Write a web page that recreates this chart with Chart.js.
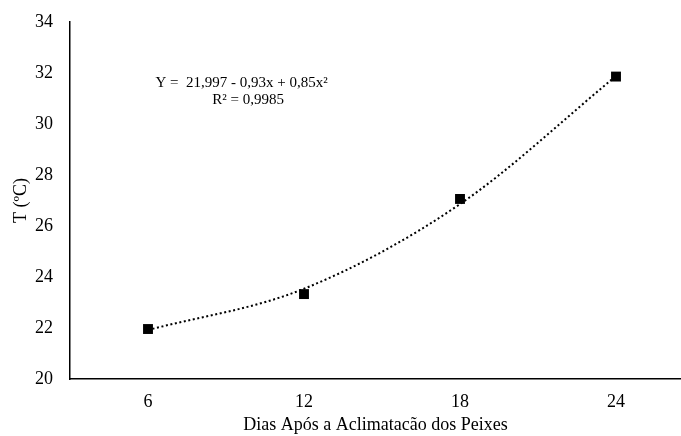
<!DOCTYPE html>
<html>
<head>
<meta charset="utf-8">
<script src="https://cdn.jsdelivr.net/npm/chart.js@4"></script>
<style>
  html, body { margin: 0; padding: 0; background: #fff; overflow: hidden; }
  #wrap { width: 681px; height: 436px; }
  canvas { display: block; }
</style>
</head>
<body>
<div id="wrap"><canvas id="myChart" width="681" height="436"></canvas></div>
<script>
// days after acclimatization
const dias = [6, 12, 18, 24];
// measured temperature (ºC)
const temperatura = [21.96, 23.33, 27.06, 31.86];
// polynomial trendline read at each day
const tendencia = [21.92, 23.54, 26.86, 31.88];
const xTicks = [6, 12, 18, 24];
const equacao = ['Y =  21,997 - 0,93x + 0,85x\u00b2', 'R\u00b2 = 0,9985'];
// where the equation label sits, in data units
const equacaoX = [9.6, 9.85];
const equacaoY = [31.6, 30.93];

const serif = "'Liberation Serif', 'Times New Roman', serif";

const pontos = dias.map((d, i) => ({ x: d, y: temperatura[i] }));
const curva = dias.map((d, i) => ({ x: d, y: tendencia[i] }));

const equationPlugin = {
    id: 'equationLabel',
    afterDraw(chart) {
        const ctx = chart.ctx;
        const xs = chart.scales.x, ys = chart.scales.y;
        ctx.save();
        ctx.fillStyle = '#000';
        ctx.font = '15px ' + serif;
        ctx.textAlign = 'center';
        ctx.textBaseline = 'middle';
        for (let i = 0; i < equacao.length; i++) {
            ctx.fillText(equacao[i], xs.getPixelForValue(equacaoX[i]), ys.getPixelForValue(equacaoY[i]));
        }
        ctx.restore();
    }
};

var ctx = document.getElementById('myChart');
var chart = new Chart(ctx, {
    type: 'scatter',
    data: {
        datasets: [
            {
                label: 'T',
                data: pontos,
                pointStyle: 'rect',
                pointRadius: 7,
                backgroundColor: '#000',
                borderColor: '#000',
                borderWidth: 0,
                showLine: false,
                order: 0
            },
            {
                label: 'Poly.',
                data: curva,
                showLine: true,
                pointRadius: 0,
                borderColor: '#000',
                borderWidth: 2,
                borderDash: [2, 2.6],
                borderCapStyle: 'butt',
                cubicInterpolationMode: 'monotone',
                order: 1
            }
        ]
    },
    options: {
        responsive: false,
        animation: false,
        layout: { autoPadding: false, padding: { top: 22, right: 0, left: 0, bottom: 0 } },
        scales: {
            x: {
                type: 'linear',
                min: 3,
                max: 26.5,
                afterBuildTicks: (axis) => { axis.ticks = xTicks.map(v => ({ value: v })); },
                afterFit: (axis) => { axis.height = 57; axis.paddingLeft = 0; axis.paddingRight = 0; },
                grid: { display: false, drawTicks: false },
                border: { display: true, color: '#000', width: 1.5 },
                ticks: { color: '#000', font: { family: serif, size: 18 }, padding: 12, maxRotation: 0 },
                title: {
                    display: true,
                    text: 'Dias Após a Aclimatacão dos Peixes',
                    color: '#000',
                    font: { family: serif, size: 18 },
                    padding: { top: 0, bottom: 0 }
                }
            },
            y: {
                min: 20,
                max: 34,
                afterFit: (axis) => { axis.width = 70; axis.paddingTop = 0; axis.paddingBottom = 0; },
                grid: { display: false, drawTicks: false },
                border: { display: true, color: '#000', width: 1.5 },
                ticks: { stepSize: 2, color: '#000', font: { family: serif, size: 18 }, padding: 17 },
                title: {
                    display: true,
                    text: 'T (ºC)',
                    color: '#000',
                    font: { family: serif, size: 18 },
                    padding: { top: 10, bottom: 0 }
                }
            }
        },
        plugins: {
            legend: { display: false },
            tooltip: { enabled: false }
        }
    },
    plugins: [equationPlugin]
});
</script>
</body>
</html>
